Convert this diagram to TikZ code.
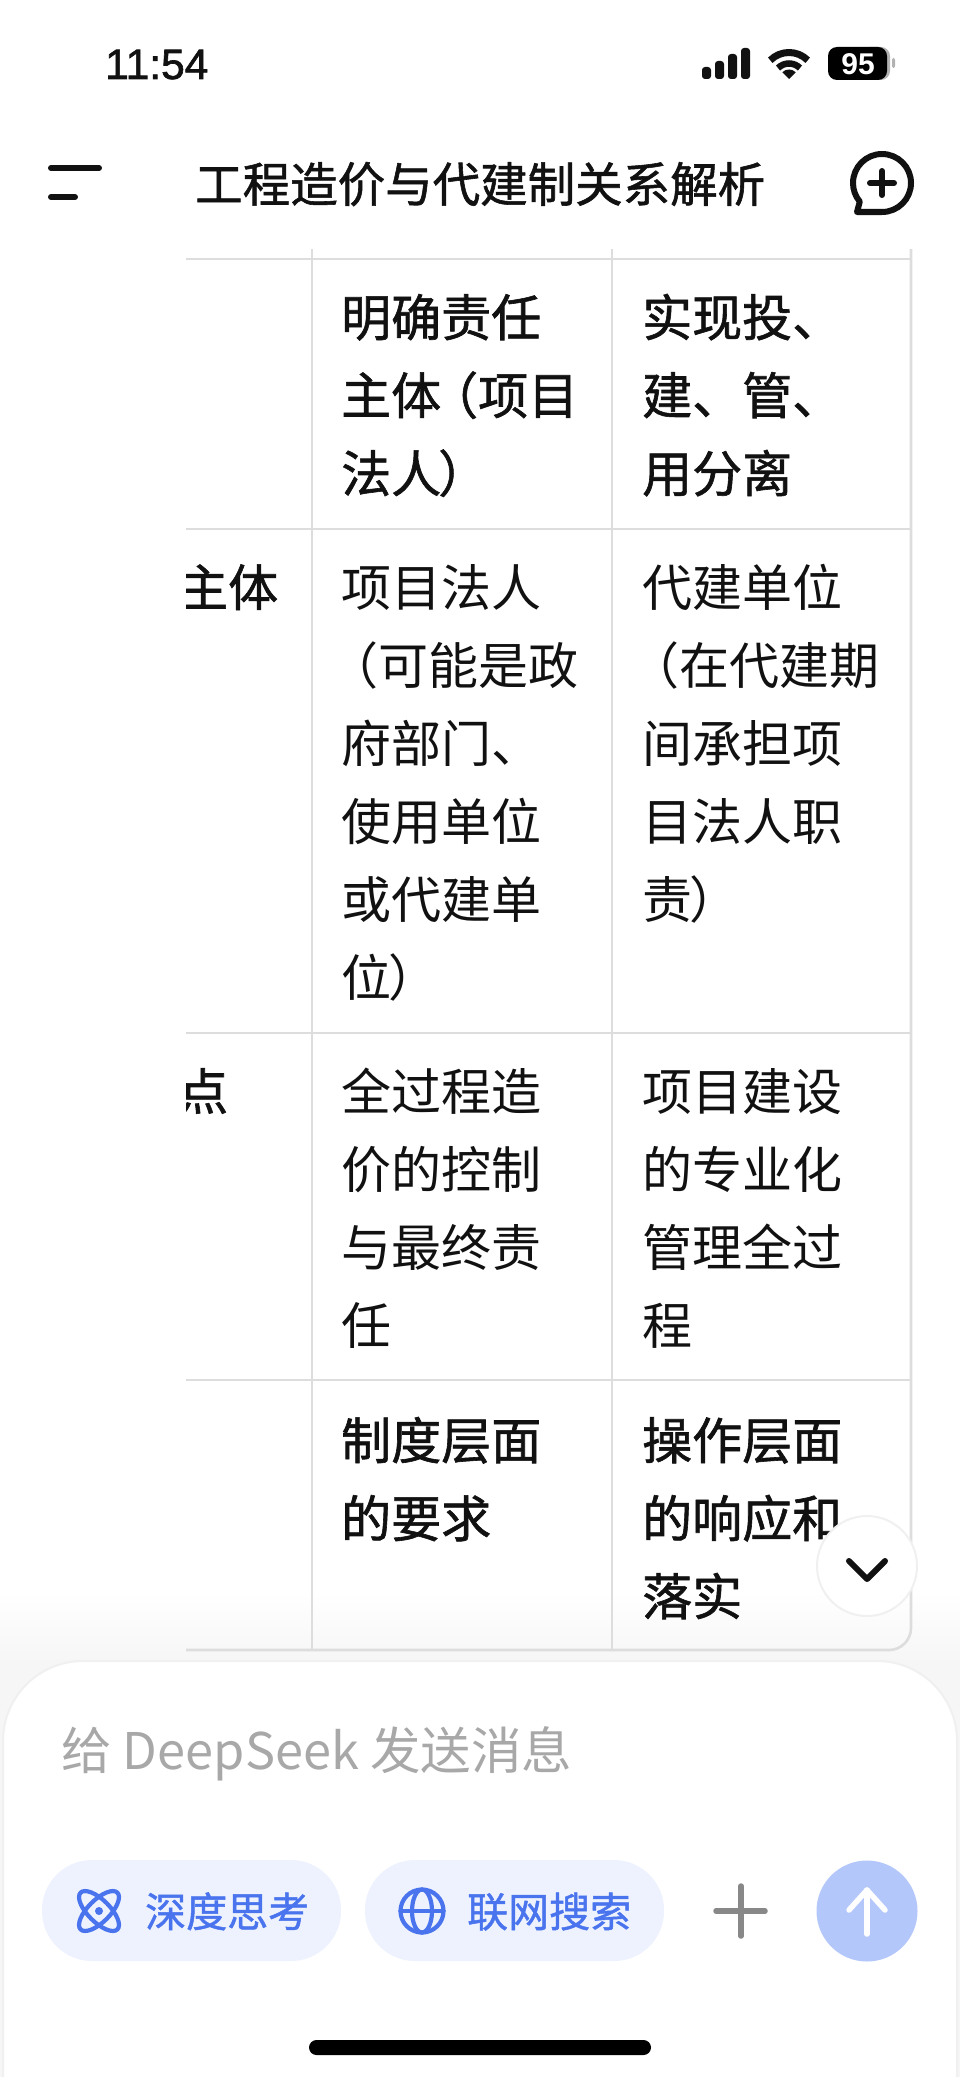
\documentclass[tikz,border=0pt]{standalone}
\usepackage{fontspec}
\setmainfont{Noto Sans CJK SC}
\newfontfamily\cjkr{Noto Sans CJK SC}
\newfontfamily\cjkm[FakeBold=1.2]{Noto Sans CJK SC}
\newfontfamily\latinb[FakeBold=1.6]{Liberation Sans}
\newfontfamily\latinbb{Liberation Sans Bold}
\usetikzlibrary{calc}
\definecolor{gridc}{HTML}{DDDDDD}
\definecolor{inkc}{HTML}{111111}
\definecolor{bluec}{HTML}{4A74EE}
\definecolor{pillc}{HTML}{EDF2FE}
\definecolor{sendc}{HTML}{B3C7FB}
\definecolor{holdc}{HTML}{A8A8A8}
\definecolor{plusc}{HTML}{888888}
\definecolor{edgec}{HTML}{F0F0F0}
\definecolor{shadec}{HTML}{F6F6F6}
\newcommand{\cellfirst}{\rule{0pt}{50pt}}
\newcommand{\openstart}{\kern-13pt （}
\newcommand{\openmid}{\kern-13pt （}
\newcommand{\closeparen}{\kern-3pt ）}
\tikzset{
  x=1pt,y=-1pt,
  cellr/.style={anchor=north west,inner sep=0pt,align=left,text=inkc,font=\cjkr\fontsize{50}{78}\selectfont},
  cellm/.style={anchor=north west,inner sep=0pt,align=left,text=inkc,font=\cjkm\fontsize{50}{78}\selectfont},
  gridline/.style={draw=gridc,line width=2.6pt},
  iconink/.style={draw=inkc,line width=6pt,line cap=round,line join=round},
  iconblue/.style={draw=bluec,line width=4.2pt,line cap=round},
  pillbox/.style={fill=pillc,rounded corners=50pt},
  pilltext/.style={anchor=base west,inner sep=0pt,text=bluec,font=\cjkm\fontsize{41}{41}\selectfont},
}
\begin{document}
\begin{tikzpicture}
\useasboundingbox (0,0) rectangle (960,2079);
\fill[white] (0,0) rectangle (960,2079);
% soft shadow above the input card
\shade[top color=white,bottom color=shadec] (0,1590) rectangle (960,1662);
\fill[shadec] (0,1662) rectangle (960,2079);
% table
\draw[gridline] (186,259) -- (911,259);
\draw[gridline] (186,529) -- (911,529);
\draw[gridline] (186,1033) -- (911,1033);
\draw[gridline] (186,1380) -- (911,1380);
\draw[gridline] (312,249) -- (312,1650);
\draw[gridline] (612,249) -- (612,1650);
\draw[gridline,rounded corners=22pt] (911,249) -- (911,1650) -- (186,1650);
% cells
\node[cellm] (c12) at (341,286) {\cellfirst 明确责任\\主体\openmid 项目\\法人\closeparen};
\node[cellm] (c13) at (642,286) {\cellfirst 实现投、\\建、管、\\用分离};
\begin{scope}
\clip (186,500) rectangle (312,1200);
\node[cellm] (c21) at (178,556) {\cellfirst 主体};
\node[cellm] (c31) at (178,1060) {\cellfirst 点};
\end{scope}
\node[cellr] (c22) at (341,556) {\cellfirst 项目法人\\\openstart 可能是政\\府部门、\\使用单位\\或代建单\\位\closeparen};
\node[cellr] (c23) at (642,556) {\cellfirst 代建单位\\\openstart 在代建期\\间承担项\\目法人职\\责\closeparen};
\node[cellr] (c32) at (341,1060) {\cellfirst 全过程造\\价的控制\\与最终责\\任};
\node[cellr] (c33) at (642,1060) {\cellfirst 项目建设\\的专业化\\管理全过\\程};
\node[cellm] (c42) at (341,1409) {\cellfirst 制度层面\\的要求};
\node[cellm] (c43) at (642,1409) {\cellfirst 操作层面\\的响应和\\落实};
% status bar
\node[anchor=base west,inner sep=0pt,text=inkc,font=\latinb\fontsize{42.5}{42.5}\selectfont] (clock) at (105,79) {11:54};
\fill[inkc,rounded corners=3pt] (702,67) rectangle (711,79);
\fill[inkc,rounded corners=3pt] (715,61) rectangle (724,79);
\fill[inkc,rounded corners=3pt] (728,54) rectangle (737,79);
\fill[inkc,rounded corners=3pt] (741,48) rectangle (750,79);
\draw[inkc,line width=7pt] ($(789,79)+(-135:26.5)$) arc[start angle=-135,end angle=-45,radius=26.5];
\draw[inkc,line width=6.5pt] ($(789,79)+(-135:15.5)$) arc[start angle=-135,end angle=-45,radius=15.5];
\fill[inkc] (789,79) -- ++(-135:9.5) arc[start angle=-135,end angle=-45,radius=9.5] -- cycle;
\fill[black!30,rounded corners=9pt] (860,47) rectangle (890,80);
\fill[black,rounded corners=9pt] (828,47) rectangle (887,80);
\fill[black!30,rounded corners=2pt] (892,58) rectangle (895,68);
\node[anchor=base,inner sep=0pt,text=white,font=\latinbb\fontsize{30}{30}\selectfont] (batt) at (858,75) {95};
% header
\draw[iconink] (51,168) -- (99,168);
\draw[iconink] (51,197) -- (75,197);
\node[anchor=base west,inner sep=0pt,text=inkc,font=\cjkm\fontsize{47.5}{47.5}\selectfont] (title) at (195,202) {工程造价与代建制关系解析};
\draw[iconink] (882,212) arc[start angle=90,end angle=-220,radius=29] -- (857,212) -- cycle;
\draw[iconink] (870,183) -- (894,183);
\draw[iconink] (882,171) -- (882,195);
% scroll button
\fill[white] (867,1566) circle (50);
\draw[edgec,line width=2pt] (867,1566) circle (50);
\draw[iconink] (849,1561) -- (867,1579) -- (885,1561);
% input card
\fill[white,draw=edgec,line width=2pt,rounded corners=80pt] (3,2200) -- (3,1661) -- (957,1661) -- (957,2200) -- cycle;
\fill[white] (0,2077) rectangle (960,2079);
\node[anchor=base west,inner sep=0pt,text=holdc,font=\cjkr\fontsize{50.5}{50.5}\selectfont] (hint) at (61,1769) {给 DeepSeek 发送消息};
% pills
\fill[pillbox] (42,1860) rectangle (341,1961);
\draw[iconblue,rotate around={45:(99,1911)}] (99,1911) ellipse [x radius=26,y radius=11];
\draw[iconblue,rotate around={-45:(99,1911)}] (99,1911) ellipse [x radius=26,y radius=11];
\fill[bluec] (99,1911) circle (4);
\node[pilltext] (think) at (145,1927) {深度思考};
\fill[pillbox] (365,1860) rectangle (664,1961);
\draw[iconblue] (422,1911) circle (21.5);
\draw[iconblue] (422,1911) ellipse [x radius=10,y radius=21.5];
\draw[iconblue] (400.5,1911) -- (443.5,1911);
\node[pilltext] (search) at (467,1927) {联网搜索};
% plus
\draw[plusc,line width=5.5pt,line cap=round] (716,1911) -- (765,1911);
\draw[plusc,line width=5.5pt,line cap=round] (741,1886) -- (741,1936);
% send
\fill[sendc] (867,1911) circle (50.5);
\draw[white,line width=5.5pt,line cap=round,line join=round] (867,1934) -- (867,1890);
\draw[white,line width=5.5pt,line cap=round,line join=round] (849,1910) -- (867,1890) -- (885,1910);
% home bar
\fill[black,rounded corners=7.5pt] (309,2040) rectangle (651,2055);
\end{tikzpicture}
\end{document}
